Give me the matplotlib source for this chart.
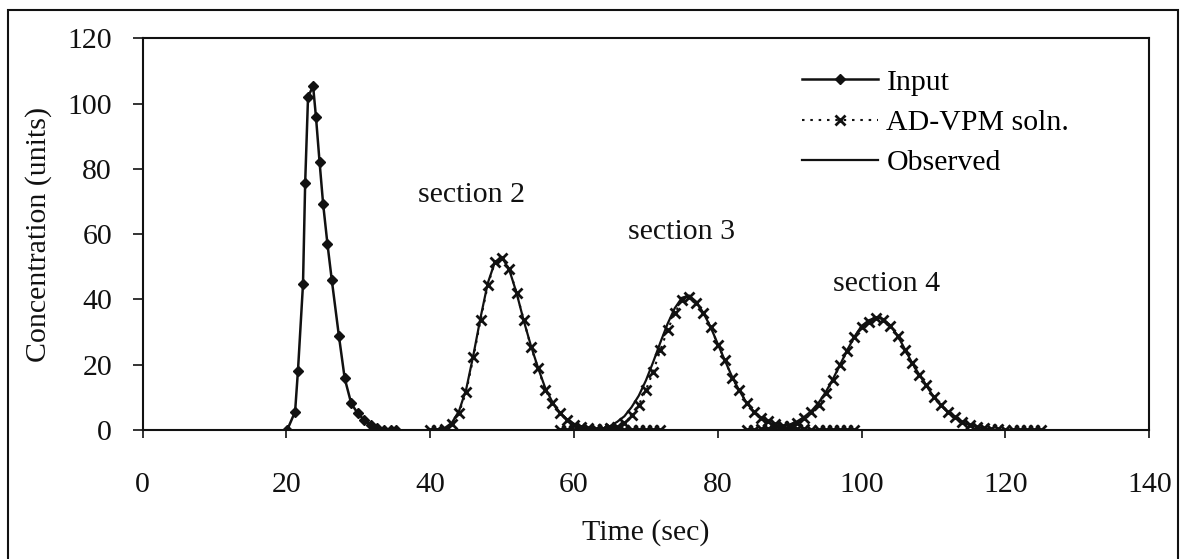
import matplotlib
matplotlib.use('Agg')
import matplotlib.pyplot as plt
from matplotlib.patches import Rectangle

plt.rcParams['font.family'] = ['Liberation Serif', 'DejaVu Serif']

# input pulse (section 1)
input_t = [20.1, 21.2, 21.6, 22.3, 22.6, 23.0, 23.7, 24.1, 24.6, 25.1, 25.7,
           26.3, 27.3, 28.1, 29.0, 29.9, 30.8, 31.7, 32.6, 33.6, 34.5, 35.3]
input_c = [0, 5.6, 18.2, 44.7, 75.6, 102, 105.4, 96, 82.2, 69.2, 57,
           46, 28.7, 15.8, 8.2, 5.1, 3.1, 1.5, 0.5, 0.1, 0, 0]

# section 2
sec2_t = list(range(40, 73))
sec2_model = [0, 0.1, 0.4, 1.8, 5.3, 11.7, 22.3, 33.7, 44.4, 51.4, 52.6,
              49.3, 42.1, 33.7, 25.5, 18.9, 12.3, 8.2, 5.1, 3.1, 1.6,
              1.0, 0.6, 0.3, 0.2, 0.1, 0, 0, 0, 0, 0, 0, 0]
obs2_t = list(range(40, 66))
obs2_c = [0, 0.2, 0.6, 2.2, 5.8, 12.5, 23, 34.5, 45, 51.5, 52.8, 49, 42,
          33.5, 25.8, 19, 12.8, 8.5, 5.4, 3.3, 1.9, 1.1, 0.6, 0.3, 0.1, 0]

# section 3
sec3_t = list(range(58, 100))
sec3_model = [0, 0, 0, 0, 0, 0, 0.2, 0.5, 1.0, 2.0, 4.6, 7.7, 12.3, 17.9,
              24.5, 30.6, 35.7, 39.8, 40.8, 38.8, 35.7, 31.7, 26.0, 21.4,
              15.8, 12.3, 8.2, 5.6, 3.6, 2.6, 1.7, 1.1, 0.7, 0.4, 0.2, 0.1,
              0, 0, 0, 0, 0, 0]
obs3_t = list(range(62, 93))
obs3_c = [0, 0.2, 0.5, 1.2, 2.5, 4.2, 7.0, 10.5, 15.2, 20.8, 26.8, 32.5,
          37.3, 40.5, 41.2, 39.3, 35.8, 31.5, 26.3, 21.2, 16.2, 12.0, 8.3,
          5.6, 3.7, 2.4, 1.5, 0.9, 0.5, 0.2, 0]

# section 4
sec4_t = list(range(84, 126))
sec4_model = [0, 0.1, 0.2, 0.3, 0.5, 0.8, 1.2, 2.2, 3.6, 5.4, 7.7, 11.2,
              15.3, 19.9, 24.3, 28.4, 31.7, 33.2, 34.2, 33.8, 32.0, 28.8,
              24.5, 20.4, 16.9, 13.8, 10.2, 7.8, 5.6, 3.9, 2.4, 1.6, 1.0,
              0.6, 0.3, 0.2, 0.1, 0, 0, 0, 0, 0]
obs4_t = list(range(86, 120))
obs4_c = [0, 0.4, 0.7, 1.1, 1.7, 2.6, 4.0, 5.8, 8.3, 11.6, 15.6, 20.0, 24.5,
          28.6, 31.9, 33.6, 34.5, 34.0, 32.0, 28.9, 24.8, 20.6, 17.0, 13.6,
          10.2, 7.6, 5.4, 3.7, 2.4, 1.5, 0.9, 0.5, 0.2, 0]

section_labels = ['section 2', 'section 3', 'section 4']
label_pos = [(45.8, 72), (74.9, 60.7), (103.4, 44.7)]

FS = 21.5
ink = '#111111'

fig = plt.figure(figsize=(11.82, 5.59), dpi=100)
ax = fig.add_axes([0.1207, 0.2308, 0.8516, 0.7007])

model_style = dict(color=ink, linestyle=(0, (1.2, 2.8)), linewidth=1.5,
                   marker='x', markersize=7, markeredgewidth=2.0)
obs_style = dict(color=ink, linestyle='-', linewidth=1.6)

ax.plot(input_t, input_c, color=ink, linewidth=1.8, marker='D',
        markersize=5.5, label='Input')
ax.plot(sec2_t, sec2_model, label='AD-VPM soln.', **model_style)
ax.plot(sec3_t, sec3_model, **model_style)
ax.plot(sec4_t, sec4_model, **model_style)
ax.plot(obs2_t, obs2_c, label='Observed', **obs_style)
ax.plot(obs3_t, obs3_c, **obs_style)
ax.plot(obs4_t, obs4_c, **obs_style)

for text, (x, y) in zip(section_labels, label_pos):
    ax.text(x, y, text, fontsize=FS, ha='center', va='center', color=ink)

ax.set_xlim(0, 140)
ax.set_ylim(0, 120)
ax.set_xticks(range(0, 141, 20))
ax.set_yticks(range(0, 121, 20))
ax.tick_params(axis='x', direction='out', length=6, width=1.2,
               labelsize=FS, pad=24, colors=ink)
ax.tick_params(axis='y', direction='out', length=7, width=1.2,
               labelsize=FS, pad=15, colors=ink)
for sp in ax.spines.values():
    sp.set_linewidth(1.5)
    sp.set_color(ink)

ax.set_xlabel('Time (sec)', fontsize=FS, color=ink)
ax.xaxis.set_label_coords(0.5, -0.227)
ax.set_ylabel('Concentration (units)', fontsize=FS, color=ink)
ax.yaxis.set_label_coords(-0.09, 0.5)

ax.legend(loc='upper left', bbox_to_anchor=(0.655, 0.922), frameon=False,
          fontsize=FS, handlelength=2.55, handletextpad=0.28,
          labelspacing=0.45, borderpad=0, borderaxespad=0)

# outer frame around the whole figure
fig.patches.append(Rectangle((8 / 1182, -0.02), 1170 / 1182, 1.02 - 10 / 559,
                             transform=fig.transFigure, fill=False,
                             edgecolor=ink, linewidth=1.5))

fig.savefig('out.png', dpi=100)
